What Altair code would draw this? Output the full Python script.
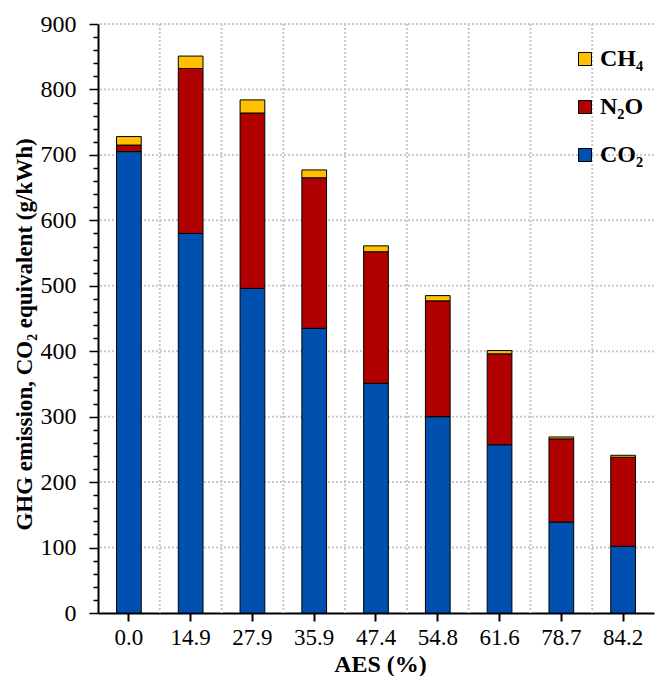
import altair as alt
import pandas as pd

# Data
aes = ["0.0", "14.9", "27.9", "35.9", "47.4", "54.8", "61.6", "78.7", "84.2"]
co2 = [705, 580, 496, 435, 351, 300, 257, 139, 102]
n2o = [10, 252, 268, 230, 201, 177, 139, 127, 136]
ch4 = [13, 19, 20, 12, 9, 8, 5, 3, 3]

gases = ["CH₄", "N₂O", "CO₂"]
gas_colors = ["#FFC000", "#B00000", "#0050AF"]
stack_rank = {"CO₂": 0, "N₂O": 1, "CH₄": 2}

# gridline values (y)
y_grid = [100, 200, 300, 400, 500, 600, 700, 800, 900]

rows = []
for i, a in enumerate(aes):
    for g, vals in (("CO₂", co2), ("N₂O", n2o), ("CH₄", ch4)):
        rows.append({"AES": a, "gas": g, "value": vals[i], "rank": stack_rank[g]})
df = pd.DataFrame(rows)
df_vgrid = pd.DataFrame({"AES": aes[1:]})
df_hgrid = pd.DataFrame({"value": y_grid})

FONT = "Liberation Serif"
MAJOR = "datum.value % 100 === 0"
GRID_COLOR = "#c8c8c8"
GRID_DASH = [2, 2]

y_scale = alt.Scale(domain=[0, 900], nice=False)
y_axis = alt.Axis(
    title="GHG emission, CO₂ equivalent (g/kWh)",
    values=list(range(0, 901, 20)),
    labelExpr=MAJOR + " ? datum.label : ''",
    labelOverlap=False,
    tickSize={"condition": {"test": MAJOR, "value": 9}, "value": 5},
    grid=False,
    labelFont=FONT, labelFontSize=24, labelColor="black", labelPadding=13,
    titleFont=FONT, titleFontSize=23, titleFontWeight="bold",
    titleColor="black", titlePadding=4, titleY=310,
    domainColor="black", domainWidth=2, tickColor="black", tickWidth=1.5,
)

vgrid = alt.Chart(df_vgrid).mark_rule(
    color=GRID_COLOR, strokeDash=GRID_DASH, strokeWidth=2
).encode(
    x=alt.X(
        "AES:N",
        scale=alt.Scale(type="band", domain=aes, paddingInner=0, paddingOuter=0),
        bandPosition=0,
        axis=None,
    )
)

hgrid = alt.Chart(df_hgrid).mark_rule(
    color=GRID_COLOR, strokeDash=GRID_DASH, strokeWidth=2
).encode(y=alt.Y("value:Q", scale=y_scale, axis=y_axis))

bars = alt.Chart(df).mark_bar(stroke="black", strokeWidth=1).encode(
    x=alt.X(
        "AES:N",
        sort=aes,
        scale=alt.Scale(paddingInner=0.6, paddingOuter=0.3),
        axis=alt.Axis(
            title="AES (%)", labelAngle=0, labelFont=FONT, labelFontSize=23,
            labelColor="black", titleFont=FONT, titleFontSize=24,
            titleFontWeight="bold", titleColor="black", titlePadding=3,
            titleX=282,
            domainColor="black", domainWidth=2, tickColor="black", tickWidth=2,
            tickSize=8, labelPadding=5, grid=False,
        ),
    ),
    y=alt.Y("value:Q", stack="zero", scale=y_scale, axis=y_axis),
    color=alt.Color(
        "gas:N",
        scale=alt.Scale(domain=gases, range=gas_colors),
        legend=alt.Legend(
            orient="none", legendX=475, legendY=23, title=None,
            symbolType="square", symbolSize=169, symbolStrokeColor="black",
            symbolStrokeWidth=1, symbolOpacity=1, labelFont=FONT,
            labelFontSize=24, labelFontWeight="bold", labelColor="black",
            rowPadding=24, labelOffset=3,
        ),
    ),
    order=alt.Order("rank:Q", sort="ascending"),
)

chart = (
    alt.layer(vgrid, hgrid, bars)
    .resolve_scale(x="independent")
    .properties(
        width=556, height=589,
        padding={"left": 5, "top": 4, "right": 0, "bottom": 0},
        background="white",
    )
    .configure_view(stroke=None)
)

chart.save("out.html", embed_options={"renderer": "svg", "actions": False})
